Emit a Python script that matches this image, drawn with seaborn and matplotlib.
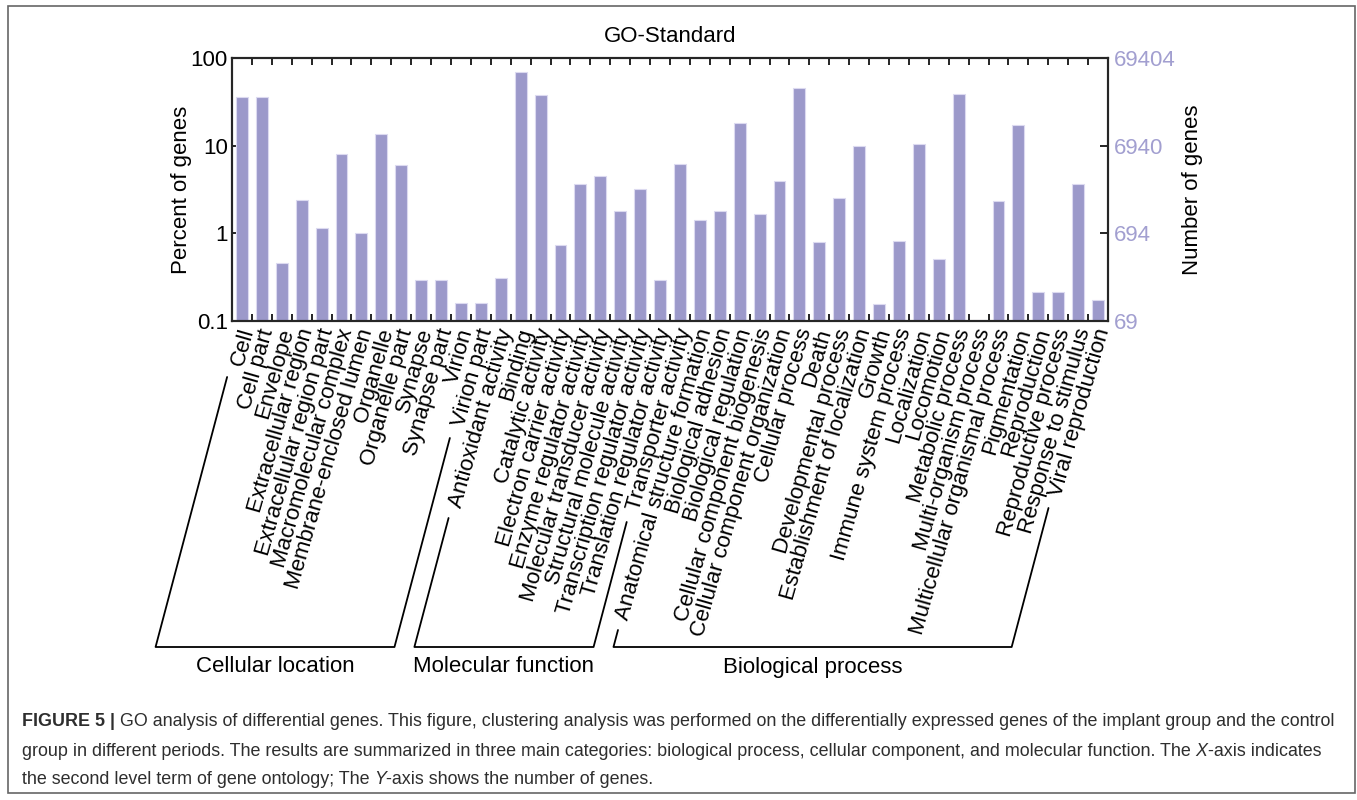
import numpy as np
import pandas as pd
import matplotlib
matplotlib.use("Agg")
import matplotlib.pyplot as plt
import matplotlib.transforms as mtransforms
import seaborn as sns
from matplotlib import font_manager
from matplotlib.lines import Line2D
from matplotlib.patches import Rectangle
from matplotlib.ticker import NullLocator

# GO terms, grouped by the three top level categories
cell_terms = ["Cell", "Cell part", "Envelope", "Extracellular region",
              "Extracellular region part", "Macromolecular complex",
              "Membrane-enclosed lumen", "Organelle", "Organelle part",
              "Synapse", "Synapse part", "Virion", "Virion part"]
cell_pct = [35.6, 35.6, 0.456, 2.39, 1.16, 8.08, 1.0, 13.7, 6.05,
            0.297, 0.297, 0.159, 0.159]

mf_terms = ["Antioxidant activity", "Binding", "Catalytic activity",
            "Electron carrier activity", "Enzyme regulator activity",
            "Molecular transducer activity", "Structural molecule activity",
            "Transcription regulator activity", "Translation regulator activity",
            "Transporter activity"]
mf_pct = [0.313, 69.2, 37.5, 0.738, 3.63, 4.52, 1.81, 3.2, 0.295, 6.2]

bp_terms = ["Anatomical structure formation", "Biological adhesion",
            "Biological regulation", "Cellular component biogenesis",
            "Cellular component organization", "Cellular process", "Death",
            "Developmental process", "Establishment of localization", "Growth",
            "Immune system process", "Localization", "Locomotion",
            "Metabolic process", "Multi-organism process",
            "Multicellular organismal process", "Pigmentation", "Reproduction",
            "Reproductive process", "Response to stimulus", "Viral reproduction"]
bp_pct = [1.43, 1.8, 17.9, 1.66, 3.95, 46.0, 0.79, 2.53, 9.94, 0.156, 0.825,
          10.5, 0.505, 39.0, 0.104, 2.34, 17.1, 0.212, 0.212, 3.66, 0.173]

group_names = ["Cellular location", "Molecular function", "Biological process"]
total_genes = 69404
left_ticks = [0.1, 1, 10, 100]
left_ticklabels = ["0.1", "1", "10", "100"]
right_ticklabels = ["69", "694", "6940", "69404"]

caption_lines = [
    [("FIGURE 5 | ", "bold", "normal"),
     ("GO analysis of differential genes. This figure, clustering analysis was performed on the "
      "differentially expressed genes of the implant group and the control", "normal", "normal")],
    [("group in different periods. The results are summarized in three main categories: biological "
      "process, cellular component, and molecular function. The ", "normal", "normal"),
     ("X", "normal", "italic"), ("-axis indicates", "normal", "normal")],
    [("the second level term of gene ontology; The ", "normal", "normal"),
     ("Y", "normal", "italic"), ("-axis shows the number of genes.", "normal", "normal")],
]

terms = cell_terms + mf_terms + bp_terms
pct = cell_pct + mf_pct + bp_pct
group_sizes = [len(cell_terms), len(mf_terms), len(bp_terms)]
df = pd.DataFrame({"term": terms, "percent": pct})

sns.set_style("white")
plt.rcParams["font.family"] = ["Liberation Sans", "DejaVu Sans"]
plt.rcParams["text.color"] = "black"
plt.rcParams["axes.labelcolor"] = "black"
plt.rcParams["xtick.color"] = "black"
plt.rcParams["ytick.color"] = "black"
names = {f.name for f in font_manager.fontManager.ttflist}
cap_family = "Liberation Sans Narrow" if "Liberation Sans Narrow" in names else "Liberation Sans"
fs = 16

W, H = 1357, 800
fig = plt.figure(figsize=(W / 100, H / 100), dpi=100)


def fx(px):
    return px / W


def fy(py):
    return 1 - py / H


ax_l, ax_r, ax_t, ax_b = 232, 1108, 58, 321
ax = fig.add_axes([fx(ax_l), fy(ax_b), fx(ax_r - ax_l), (ax_b - ax_t) / H])

bar_color = "#9c99ca"
sns.barplot(data=df, x="term", y="percent", color=bar_color, width=0.6,
            edgecolor="#dcdaf0", linewidth=0.8, saturation=1, ax=ax)
ax.set_yscale("log")
ax.set_ylim(0.1, 100)
ax.set_xlim(-0.5, len(terms) - 0.5)
ax.set_yticks(left_ticks)
ax.set_yticklabels(left_ticklabels)
ax.yaxis.set_minor_locator(NullLocator())
ax.set_ylabel("Percent of genes", fontsize=fs, labelpad=-1)
ax.set_xlabel("")

# category labels: slanted text hanging under each bar
ax.set_xticks(range(len(terms)))
ax.set_xticklabels([])
shift = mtransforms.ScaledTranslation(6 / 100, -8 / 100, fig.dpi_scale_trans)
lab_trans = ax.get_xaxis_transform() + shift
for i, term in enumerate(terms):
    ax.text(i, 0, term, transform=lab_trans, rotation=74, ha="right",
            va="center", rotation_mode="anchor", fontsize=fs, clip_on=False)

ax.set_xticks(np.arange(-0.5, len(terms), 1), minor=True)
ax.tick_params(axis="x", which="major", length=0)
ax.tick_params(axis="x", which="minor", direction="in", length=5, width=1.2,
               top=True, bottom=True, color="black")
ax.tick_params(axis="y", which="major", direction="in", length=6, width=1.2,
               labelsize=fs, pad=3, right=False, color="black")
for s in ax.spines.values():
    s.set_visible(True)
    s.set_linewidth(1.5)
    s.set_color("black")

# right axis: number of genes
ax2 = ax.twinx()
ax2.set_yscale("log")
ax2.set_ylim(0.1 * total_genes / 100, total_genes)
ax2.set_yticks([v * total_genes / 100 for v in left_ticks])
ax2.set_yticklabels(right_ticklabels)
ax2.yaxis.set_minor_locator(NullLocator())
ax2.tick_params(axis="y", which="major", direction="in", length=6, width=1.2,
                labelsize=fs, labelcolor="#a29fd0", pad=4, color="black")
ax2.set_ylabel("Number of genes", fontsize=fs, labelpad=5)
for s in ax2.spines.values():
    s.set_linewidth(1.5)

fig.text(fx((ax_l + ax_r) / 2), fy(36), "GO-Standard", fontsize=fs,
         ha="center", va="center")

# group brackets following the slant of the labels
slope = 0.265
bottom_y = 647
bracket_tops = [(377, 438), (518, 522), (630, 508)]
start = 0
for name, n, (top_l, top_r) in zip(group_names, group_sizes, bracket_tops):
    xl = ax.transData.transform((start, 1))[0]
    xr = ax.transData.transform((start + n - 1, 1))[0]
    bl = xl - slope * (bottom_y - ax_b)
    br = xr - slope * (bottom_y - ax_b)
    tl = xl - slope * (top_l - ax_b)
    tr = xr - slope * (top_r - ax_b)
    xs = [tl, bl, br, tr]
    ys = [top_l, bottom_y, bottom_y, top_r]
    fig.add_artist(Line2D([fx(v) for v in xs], [fy(v) for v in ys],
                          color="black", linewidth=1.3))
    fig.text(fx((bl + br) / 2), fy(667), name, fontsize=fs,
             ha="center", va="center")
    start += n

# outer frame
fig.add_artist(Rectangle((fx(8), fy(793)), fx(1355 - 8), (793 - 6) / H,
                         fill=False, edgecolor="#666666", linewidth=1.2,
                         transform=fig.transFigure))

# caption, piece by piece so that bold and italic parts follow on
renderer = fig.canvas.get_renderer()


def line_width(line, size):
    w = 0
    for txt, weight, style in line:
        t = fig.text(0, 0, txt, fontsize=size, fontweight=weight,
                     fontstyle=style, family=cap_family)
        w += t.get_window_extent(renderer).width
        t.remove()
    return w


cap_fs = 10 * 1318 / line_width(caption_lines[0], 10)
for line, y in zip(caption_lines, [721, 751, 780]):
    x = fx(22)
    for txt, weight, style in line:
        t = fig.text(x, fy(y), txt, fontsize=cap_fs, fontweight=weight,
                     fontstyle=style, family=cap_family, color="#2e2e2e",
                     ha="left", va="center")
        x += t.get_window_extent(renderer).width / W

fig.savefig("out.png", dpi=100)
